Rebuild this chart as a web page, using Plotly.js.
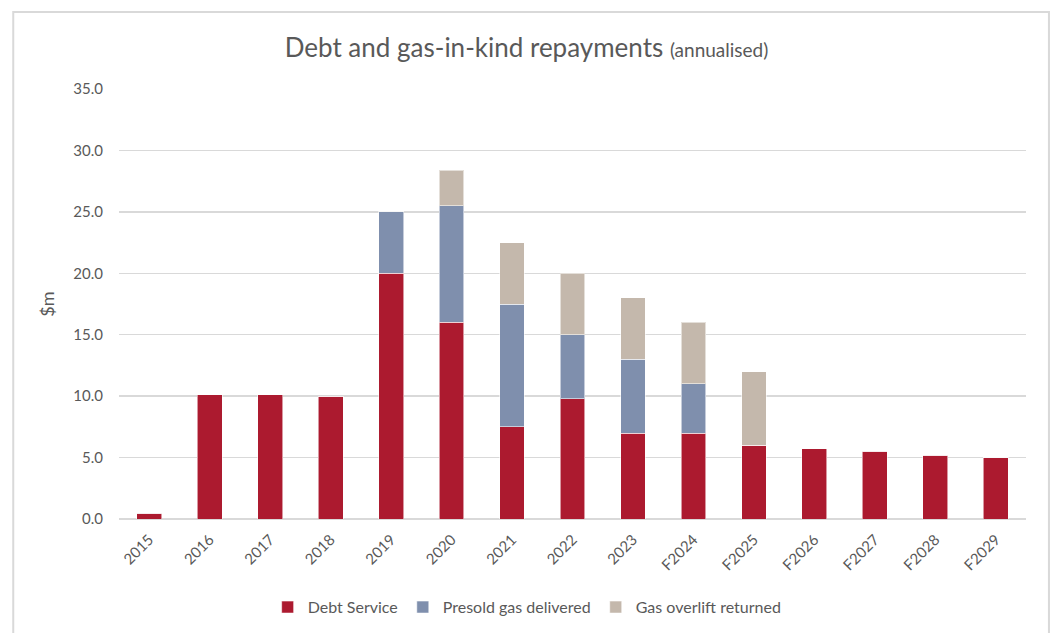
<!DOCTYPE html>
<html>
<head>
<meta charset="utf-8">
<script src="https://cdn.plot.ly/plotly-3.0.1.min.js"></script>
<style>
html,body{margin:0;padding:0;background:#fff;}
#chart{width:1053px;height:633px;}
</style>
</head>
<body>
<div id="chart"></div>
<script>
const categories = ["2015","2016","2017","2018","2019","2020","2021","2022","2023","F2024","F2025","F2026","F2027","F2028","F2029"];
const debtService = [0.45, 10.1, 10.1, 10.0, 20.0, 16.0, 7.5, 9.8, 7.0, 7.0, 6.0, 5.7, 5.5, 5.2, 5.0];
const presoldGas  = [0, 0, 0, 0, 5.0, 9.5, 10.0, 5.2, 6.0, 4.0, 0, 0, 0, 0, 0];
const gasOverlift = [0, 0, 0, 0, 0, 2.9, 5.0, 5.0, 5.0, 5.0, 6.0, 0, 0, 0, 0];
const yTicks = [0, 5, 10, 15, 20, 25, 30, 35];

const FONT = "Lato, 'Open Sans', sans-serif";
const edge = {color: "rgba(255,255,255,0.55)", width: 1};

const traces = [
  {type: "bar", name: "Debt Service", x: categories, y: debtService,
   marker: {color: "#AC1A2F", line: edge}},
  {type: "bar", name: "Presold gas delivered", x: categories, y: presoldGas,
   marker: {color: "#7F8FAD", line: edge}},
  {type: "bar", name: "Gas overlift returned", x: categories, y: gasOverlift,
   marker: {color: "#C4B8AC", line: edge}}
];

const layout = {
  width: 1053, height: 633,
  margin: {l: 119, r: 27, t: 89, b: 113.5, autoexpand: false},
  paper_bgcolor: "#fff", plot_bgcolor: "#fff",
  barmode: "stack", bargap: 0.59,
  font: {family: FONT, color: "#595959", size: 15},
  title: {
    text: "Debt and gas-in-kind repayments <span style='font-size:19px'>(annualised)</span>",
    font: {family: FONT, size: 26, color: "#595959"},
    x: 0.5, xanchor: "center", y: 0.925, yanchor: "middle"
  },
  xaxis: {
    type: "category", automargin: false,
    tickangle: -45, showgrid: false, zeroline: false, showline: false,
    ticks: "outside", ticklen: 5, tickcolor: "rgba(0,0,0,0)",
    tickfont: {size: 15, color: "#595959"}
  },
  yaxis: {
    automargin: false,
    range: [0, 35], tickvals: yTicks, tickformat: ".1f",
    showgrid: true, gridcolor: "#d9d9d9", gridwidth: 1.5,
    zeroline: true, zerolinecolor: "#d9d9d9", zerolinewidth: 1.5,
    showline: false, ticks: "outside", ticklen: 12, tickcolor: "rgba(0,0,0,0)",
    tickfont: {size: 15, color: "#595959"},
    title: {text: "$m", font: {size: 18, color: "#595959"}, standoff: 14}
  },
  legend: {
    orientation: "h", x: 0.45, xanchor: "center", y: -0.205, yanchor: "middle",
    font: {size: 16, color: "#595959"}, traceorder: "normal",
    itemwidth: 30
  },
  shapes: [{
    type: "rect", xref: "paper", yref: "paper",
    x0: -0.1166, x1: 1.0253, y0: -0.3, y1: 1.1789,
    line: {color: "#d9d9d9", width: 2}, fillcolor: "rgba(0,0,0,0)", layer: "below"
  }],
  showlegend: true
};

Plotly.newPlot("chart", traces, layout, {displayModeBar: false, staticPlot: true});
</script>
</body>
</html>
